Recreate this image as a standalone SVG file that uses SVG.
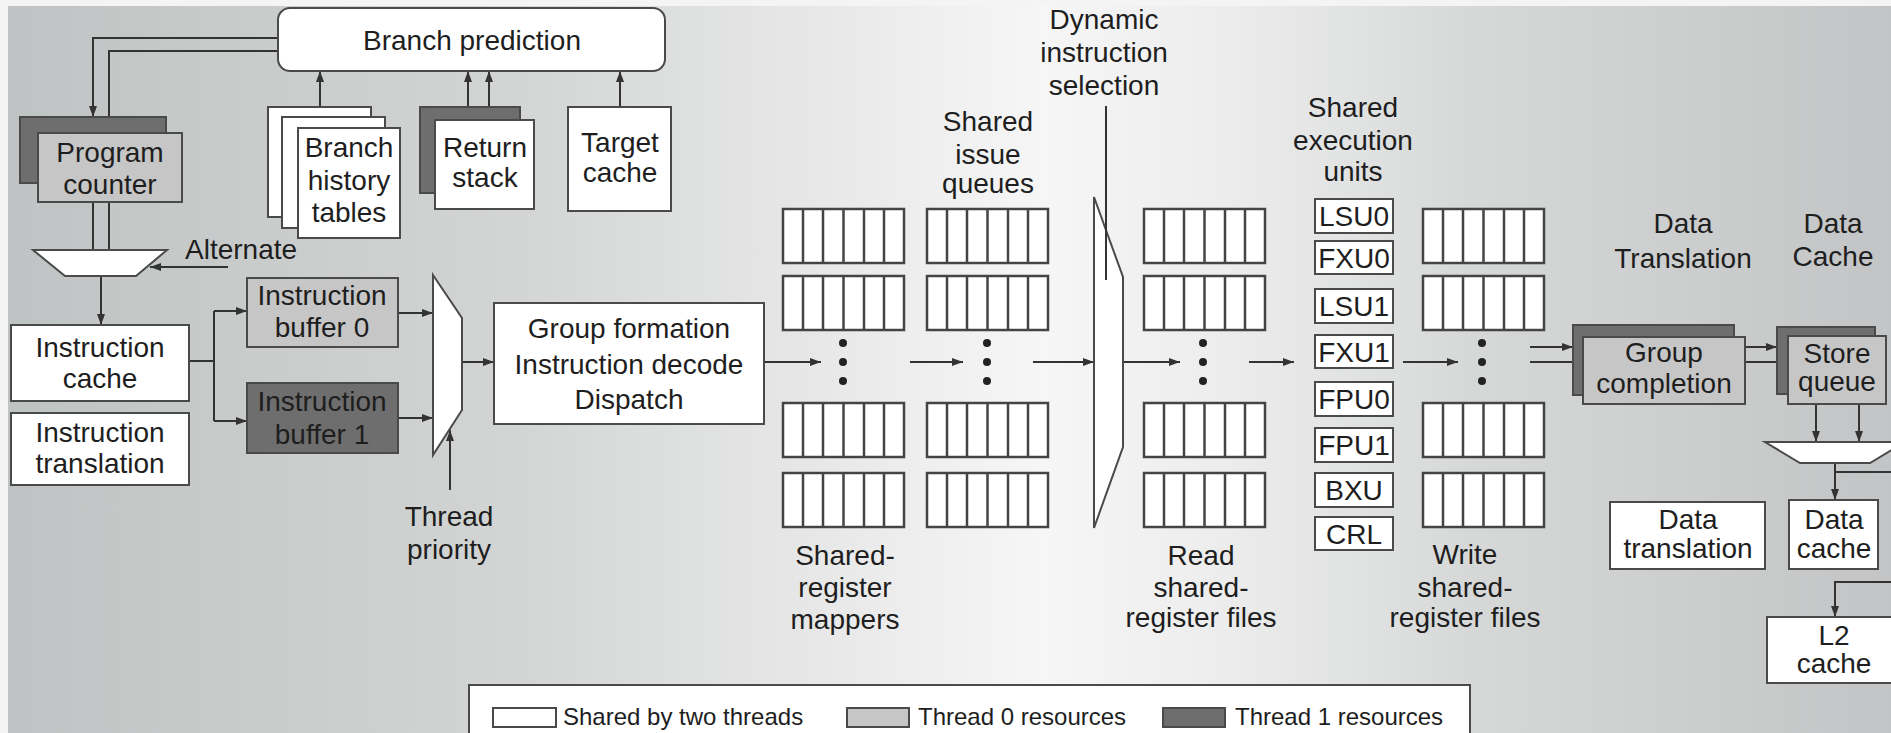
<svg xmlns="http://www.w3.org/2000/svg" width="1891" height="733" viewBox="0 0 1891 733">
<style>
.bx{stroke:#4a4a4a;stroke-width:2}
.w{fill:#fff}
.t0{fill:#c6c6c6}
.t1{fill:#6e6e6e}
.ln{fill:none;stroke:#333;stroke-width:2}
.ar{marker-end:url(#ah)}
text{font-family:"Liberation Sans",Arial,Helvetica,sans-serif;font-size:28px;fill:#1e1e1e;text-anchor:middle}
.lg{font-size:24px;text-anchor:start}
.dot{fill:#222}
</style>
<defs>
<linearGradient id="bg" x1="0" y1="0" x2="1" y2="0">
<stop offset="0" stop-color="#c0c3c3"/>
<stop offset="0.27" stop-color="#d3d5d5"/>
<stop offset="0.45" stop-color="#eaeaea"/>
<stop offset="0.55" stop-color="#f6f6f6"/>
<stop offset="0.65" stop-color="#ececec"/>
<stop offset="0.78" stop-color="#d6d8d8"/>
<stop offset="1" stop-color="#c2c4c5"/>
</linearGradient>
<marker id="ah" markerUnits="userSpaceOnUse" markerWidth="11" markerHeight="8" refX="11" refY="4" orient="auto"><path d="M0,0L11,4L0,8z" fill="#333"/></marker>
<g id="rf"><rect width="121" height="54" fill="#fff" stroke="#444" stroke-width="2.5"/><path d="M20,0v54M40,0v54M60.5,0v54M81,0v54M101,0v54" stroke="#444" stroke-width="2.5"/></g>
</defs>
<rect width="1891" height="733" fill="#f4f4f4"/>
<rect x="8" y="6" width="1883" height="727" fill="url(#bg)"/>

<g id="connectors">
<path class="ln ar" d="M278,38H93V117"/>
<path class="ln ar" d="M278,51H109V133"/>
<path class="ln" d="M93,202V250M109,202V250"/>
<path class="ln ar" d="M228,267H150"/>
<path class="ln ar" d="M320,107V71"/>
<path class="ln ar" d="M468,107V71"/>
<path class="ln ar" d="M489,120V71"/>
<path class="ln ar" d="M620,107V71"/>
<path class="ln ar" d="M101,276V325"/>
<path class="ln" d="M189,361H214M214,311V421"/>
<path class="ln ar" d="M214,311H247"/>
<path class="ln ar" d="M214,421H247"/>
<path class="ln ar" d="M398,313H433"/>
<path class="ln ar" d="M398,418H433"/>
<path class="ln ar" d="M450,490V430"/>
<path class="ln ar" d="M462,362H494"/>
<path class="ln ar" d="M764,362H821"/>
<path class="ln ar" d="M910,362H963"/>
<path class="ln ar" d="M1033,362H1094"/>
<path class="ln ar" d="M1123,362H1180"/>
<path class="ln ar" d="M1249,362H1294"/>
<path class="ln ar" d="M1403,362H1458"/>
<path class="ln ar" d="M1530,347H1573"/>
<path class="ln ar" d="M1530,362H1583"/>
<path class="ln ar" d="M1745,347H1777"/>
<path class="ln ar" d="M1745,362H1788"/>
<path class="ln ar" d="M1816,404V442"/>
<path class="ln ar" d="M1859,404V442"/>
<path class="ln ar" d="M1835,463V500"/>
<path class="ln" d="M1835,472H1891"/>
<path class="ln ar" d="M1891,582H1835V617"/>
</g>

<g id="branch-prediction"><rect class="bx w" x="278" y="8" width="387" height="63" rx="12"/><text x="472" y="50">Branch prediction</text></g>
<g id="program-counter"><rect class="bx t1" x="20" y="117" width="146" height="66"/><rect class="bx t0" x="38" y="133" width="144" height="69"/><text x="110" y="162">Program</text><text x="110" y="194">counter</text></g>
<g id="fetch-mux"><polygon class="bx w" points="33,250 167,250 136,276 65,276"/><text x="185" y="259" style="text-anchor:start">Alternate</text></g>
<g id="branch-history"><rect class="bx w" x="268" y="107" width="103" height="110"/><rect class="bx w" x="282" y="117" width="103" height="111"/><rect class="bx w" x="298" y="128" width="102" height="110"/><text x="349" y="157">Branch</text><text x="349" y="190">history</text><text x="349" y="222">tables</text></g>
<g id="return-stack"><rect class="bx t1" x="420" y="107" width="100" height="86"/><rect class="bx w" x="435" y="120" width="99" height="89"/><text x="485" y="157">Return</text><text x="485" y="187">stack</text></g>
<g id="target-cache"><rect class="bx w" x="568" y="107" width="103" height="104"/><text x="620" y="152">Target</text><text x="620" y="182">cache</text></g>
<g id="instruction-cache"><rect class="bx w" x="11" y="325" width="178" height="76"/><text x="100" y="357">Instruction</text><text x="100" y="388">cache</text></g>
<g id="instruction-translation"><rect class="bx w" x="11" y="413" width="178" height="72"/><text x="100" y="442">Instruction</text><text x="100" y="473">translation</text></g>
<g id="instruction-buffer-0"><rect class="bx t0" x="247" y="278" width="151" height="69"/><text x="322" y="305">Instruction</text><text x="322" y="337">buffer 0</text></g>
<g id="instruction-buffer-1"><rect class="bx t1" x="247" y="383" width="151" height="70"/><text x="322" y="411">Instruction</text><text x="322" y="444">buffer 1</text></g>
<g id="thread-mux"><polygon class="bx w" points="433,275 462,318 462,410 433,455"/><text x="449" y="526">Thread</text><text x="449" y="559">priority</text></g>
<g id="group-formation"><rect class="bx w" x="494" y="303" width="270" height="121"/><text x="629" y="338">Group formation</text><text x="629" y="374">Instruction decode</text><text x="629" y="409">Dispatch</text></g>
<g id="mappers"><use href="#rf" x="783" y="209"/><use href="#rf" x="783" y="276"/><use href="#rf" x="783" y="403"/><use href="#rf" x="783" y="473"/><circle class="dot" cx="843" cy="343" r="4"/><circle class="dot" cx="843" cy="362" r="4"/><circle class="dot" cx="843" cy="381" r="4"/><text x="845" y="565">Shared-</text><text x="845" y="597">register</text><text x="845" y="629">mappers</text></g>
<g id="issue-queues"><use href="#rf" x="927" y="209"/><use href="#rf" x="927" y="276"/><use href="#rf" x="927" y="403"/><use href="#rf" x="927" y="473"/><circle class="dot" cx="987" cy="343" r="4"/><circle class="dot" cx="987" cy="362" r="4"/><circle class="dot" cx="987" cy="381" r="4"/><text x="988" y="131">Shared</text><text x="988" y="164">issue</text><text x="988" y="193">queues</text></g>
<g id="instruction-selection"><polygon class="bx w" points="1094,197 1123,277 1123,447 1094,528"/><path class="ln" d="M1106,106V280"/><text x="1104" y="29">Dynamic</text><text x="1104" y="62">instruction</text><text x="1104" y="95">selection</text></g>
<g id="read-register-files"><use href="#rf" x="1144" y="209"/><use href="#rf" x="1144" y="276"/><use href="#rf" x="1144" y="403"/><use href="#rf" x="1144" y="473"/><circle class="dot" cx="1203" cy="343" r="4"/><circle class="dot" cx="1203" cy="362" r="4"/><circle class="dot" cx="1203" cy="381" r="4"/><text x="1201" y="565">Read</text><text x="1201" y="597">shared-</text><text x="1201" y="627">register files</text></g>
<g id="execution-units"><text x="1353" y="117">Shared</text><text x="1353" y="150">execution</text><text x="1353" y="181">units</text>
<rect class="bx w" x="1315" y="199" width="78" height="34"/><text x="1354" y="226">LSU0</text>
<rect class="bx w" x="1315" y="241" width="78" height="33"/><text x="1354" y="268">FXU0</text>
<rect class="bx w" x="1315" y="289" width="78" height="34"/><text x="1354" y="316">LSU1</text>
<rect class="bx w" x="1315" y="335" width="78" height="33"/><text x="1354" y="362">FXU1</text>
<rect class="bx w" x="1315" y="382" width="78" height="34"/><text x="1354" y="409">FPU0</text>
<rect class="bx w" x="1315" y="428" width="78" height="34"/><text x="1354" y="455">FPU1</text>
<rect class="bx w" x="1315" y="473" width="78" height="34"/><text x="1354" y="500">BXU</text>
<rect class="bx w" x="1315" y="517" width="78" height="33"/><text x="1354" y="544">CRL</text></g>
<g id="write-register-files"><use href="#rf" x="1423" y="209"/><use href="#rf" x="1423" y="276"/><use href="#rf" x="1423" y="403"/><use href="#rf" x="1423" y="473"/><circle class="dot" cx="1482" cy="343" r="4"/><circle class="dot" cx="1482" cy="362" r="4"/><circle class="dot" cx="1482" cy="381" r="4"/><text x="1465" y="564">Write</text><text x="1465" y="597">shared-</text><text x="1465" y="627">register files</text></g>
<g id="stage-labels"><text x="1683" y="233">Data</text><text x="1683" y="268">Translation</text><text x="1833" y="233">Data</text><text x="1833" y="266">Cache</text></g>
<g id="group-completion"><rect class="bx t1" x="1573" y="325" width="161" height="70"/><rect class="bx t0" x="1583" y="337" width="162" height="67"/><text x="1664" y="362">Group</text><text x="1664" y="393">completion</text></g>
<g id="store-queue"><rect class="bx t1" x="1777" y="327" width="98" height="67"/><rect class="bx t0" x="1788" y="336" width="98" height="68"/><text x="1837" y="363">Store</text><text x="1837" y="391">queue</text></g>
<g id="store-mux"><polygon class="bx w" points="1765,442 1905,442 1870,463 1800,463"/></g>
<g id="data-translation"><rect class="bx w" x="1610" y="502" width="155" height="67"/><text x="1688" y="529">Data</text><text x="1688" y="558">translation</text></g>
<g id="data-cache"><rect class="bx w" x="1789" y="500" width="89" height="69"/><text x="1834" y="529">Data</text><text x="1834" y="558">cache</text></g>
<g id="l2-cache"><rect class="bx w" x="1767" y="617" width="130" height="66"/><text x="1834" y="645">L2</text><text x="1834" y="673">cache</text></g>
<g id="legend"><rect class="bx w" x="469" y="685" width="1001" height="60"/>
<rect class="bx w" x="493" y="708" width="63" height="19"/><text class="lg" x="563" y="725">Shared by two threads</text>
<rect class="bx t0" x="847" y="708" width="62" height="19"/><text class="lg" x="918" y="725">Thread 0 resources</text>
<rect class="bx t1" x="1163" y="708" width="62" height="19"/><text class="lg" x="1235" y="725">Thread 1 resources</text></g>
</svg>
